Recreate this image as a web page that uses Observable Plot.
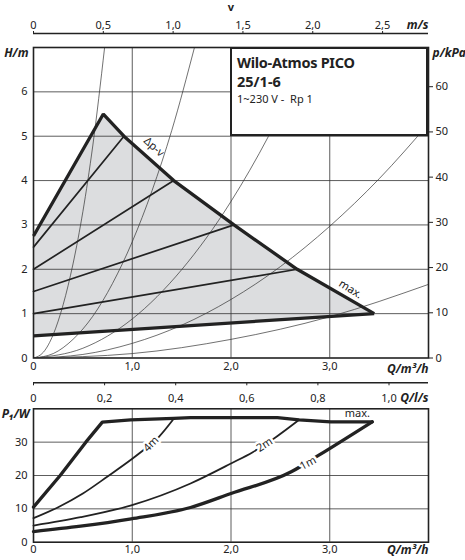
<!DOCTYPE html>
<html>
<head>
<meta charset="utf-8">
<script src="https://cdn.jsdelivr.net/npm/d3@7"></script>
<script src="https://cdn.jsdelivr.net/npm/@observablehq/plot@0.6"></script>
<style>
  html, body { margin: 0; padding: 0; background: #fff; }
  body { font-family: "Noto Sans", "Open Sans", sans-serif; color: #222; }
  #wrap { position: relative; width: 465px; height: 560px; overflow: hidden; }
  #wrap svg { display: block; }
  #legend {
    position: absolute; left: 230px; top: 47px; width: 198px; height: 89px;
    box-sizing: border-box; border: 2px solid #222; background: #fff;
    padding: 4px 0 0 5px; line-height: 1;
  }
  #legend .t1 { font-weight: bold; font-size: 14.5px; letter-spacing: -0.3px; margin-top: 2px; }
  #legend .t2 { font-weight: bold; font-size: 14.5px; margin-top: 4px; }
  #legend .t3 { font-size: 11px; margin-top: 5px; }
</style>
</head>
<body>
<div id="wrap">
  <div id="top"></div>
  <div id="bottom"></div>
  <div id="legend">
    <div class="t1">Wilo-Atmos PICO</div>
    <div class="t2">25/1-6</div>
    <div class="t3">1~230 V -&nbsp; Rp 1</div>
  </div>
</div>
<script>
// ---------- tick values ----------
const qTicks = [0, 1, 2, 3];            // Q in m³/h
const hTicks = [0, 1, 2, 3, 4, 5, 6];   // H in m
const kPaTicks = [0, 10, 20, 30, 40, 50, 60];
const vTicks = [0, 0.5, 1, 1.5, 2, 2.5];   // m/s
const lsTicks = [0, 0.2, 0.4, 0.6, 0.8, 1.0]; // l/s
const pTicks = [0, 10, 20, 30];          // P1 in W
const qGrid = [1, 2, 3];
const hGrid = [1, 2, 3, 4, 5, 6];
const pGrid = [10, 20, 30];

// unit conversions used by the secondary axes
const Q_PER_MS = 1.414;   // m³/h per m/s (pipe velocity axis)
const Q_PER_LS = 3.6;     // m³/h per l/s
const KPA_PER_M = 9.81;   // kPa per m head

// ---------- top panel: H(Q) ----------
// envelope (max. curve): rising edge then Δp-v max line
const maxEnvelope = [[0, 2.75], [0.707, 5.5], [0.916, 5.0], [1.42, 4.0], [2.03, 3.0], [2.67, 2.0], [3.45, 1.0]];
// minimum Δp-v line
const minLine = [[0, 0.5], [3.45, 1.0]];
// intermediate Δp-v lines
const dpvLine1 = [[0, 2.5], [0.916, 5.0]];
const dpvLine2 = [[0, 2.0], [1.42, 4.0]];
const dpvLine3 = [[0, 1.5], [2.03, 3.0]];
const dpvLine4 = [[0, 1.0], [2.67, 2.0]];
// system (pipe) curves
const sysA = [[0, 0], [0.1, 0.13], [0.2, 0.53], [0.3, 1.2], [0.4, 2.12], [0.5, 3.3], [0.6, 4.78], [0.72, 7.0]];
const sysB = [[0, 0], [0.2, 0.1], [0.4, 0.42], [0.6, 0.94], [0.8, 1.68], [1.0, 2.62], [1.2, 3.77], [1.4, 5.13], [1.63, 7.0]];
const sysC = [[0, 0], [0.5, 0.22], [1.0, 0.88], [1.5, 1.99], [2.0, 3.53], [2.38, 5.0], [2.6, 5.97], [2.82, 7.0]];
const sysD = [[0, 0], [0.5, 0.08], [1.0, 0.33], [1.5, 0.74], [2.0, 1.32], [2.5, 2.06], [3.0, 2.97], [3.5, 4.04], [4.0, 5.28]];
const sysE = [[0, 0], [1.0, 0.1], [2.0, 0.42], [3.0, 0.93], [4.0, 1.66]];

// ---------- bottom panel: P1(Q) ----------
const pMax = [[0, 10.5], [0.27, 20], [0.53, 30], [0.697, 36], [0.984, 36.65], [1.42, 37.15], [1.59, 37.35], [2.47, 37.35], [2.69, 36.7], [3.01, 36.1], [3.43, 36.1]];
const p4m = [[0, 7.2], [0.25, 10.5], [0.5, 14.6], [0.75, 19.7], [1.0, 25.0], [1.13, 28.0], [1.27, 31.6], [1.42, 37.0]];
const p2m = [[0, 5.0], [0.477, 7.5], [0.99, 11.05], [1.59, 17.6], [2.0, 23.6], [2.22, 27.0], [2.45, 31.4], [2.69, 36.7]];
const p1m = [[0, 3.2], [0.477, 4.8], [0.99, 7.0], [1.59, 10.4], [2.0, 14.6], [2.61, 21.1], [2.89, 26.1], [3.43, 36.1]];

// curve labels
const topLabels = [
  {q: 1.22, h: 4.76, text: "Δp-v", rotate: 42},
  {q: 3.21, h: 1.55, text: "max.", rotate: 32}
];
const bottomLabels = [
  {q: 1.19, p: 29.4, text: "4m", rotate: -45},
  {q: 2.34, p: 29.2, text: "2m", rotate: -33},
  {q: 2.78, p: 23.7, text: "1m", rotate: -28}
];
const maxLabelP = [{q: 3.28, p: 38.5, text: "max."}];

// ---------- helpers ----------
const FONT = "Noto Sans";
const INK = "#222";
const comma1 = d => d === 0 ? "0" : d.toFixed(1).replace(".", ",");
const pts = (arr, name) => arr.map(([q, y]) => ({q, y, name}));
const title = {fontWeight: "bold", fontStyle: "italic", fontSize: 12, lineAnchor: "middle", fill: INK};

// ---------- top chart ----------
const shadePoly = pts(maxEnvelope.concat(minLine.slice().reverse()), "shade");
const sysCurves = [
  ...pts(sysA, "A"), ...pts(sysB, "B"), ...pts(sysC, "C"), ...pts(sysD, "D"), ...pts(sysE, "E")
];
const dpvLines = [
  ...pts(dpvLine1, "1"), ...pts(dpvLine2, "2"), ...pts(dpvLine3, "3"), ...pts(dpvLine4, "4")
];

const topChart = Plot.plot({
  width: 465,
  height: 375,
  marginLeft: 33,
  marginRight: 37,
  marginTop: 47,
  marginBottom: 17.5,
  style: {fontFamily: FONT, fontSize: "11px", color: INK, background: "white", overflow: "visible"},
  x: {domain: [0, 4]},
  y: {domain: [0, 7]},
  marks: [
    Plot.line(shadePoly, {x: "q", y: "y", fill: "#dcdddf", stroke: "none", curve: "linear"}),
    Plot.ruleX(qGrid, {stroke: "#333", strokeWidth: 0.8}),
    Plot.ruleY(hGrid, {stroke: "#333", strokeWidth: 0.8}),
    Plot.line(sysCurves, {x: "q", y: "y", z: "name", stroke: "#333", strokeWidth: 0.7, curve: "monotone-x", clip: true}),
    Plot.line(dpvLines, {x: "q", y: "y", z: "name", stroke: INK, strokeWidth: 1.7}),
    Plot.line(pts(minLine, "min"), {x: "q", y: "y", stroke: INK, strokeWidth: 3.3, strokeLinecap: "butt"}),
    Plot.line(pts(maxEnvelope, "max"), {x: "q", y: "y", stroke: INK, strokeWidth: 3.3, strokeLinejoin: "miter", strokeLinecap: "butt"}),
    Plot.text(topLabels, {x: "q", y: "h", text: "text", rotate: "rotate", fontSize: 11, fill: INK}),
    Plot.frame({stroke: INK, strokeWidth: 1.6}),
    // bottom Q axis
    Plot.axisX({anchor: "bottom", ticks: qTicks, tickSize: 0, tickPadding: 4, tickFormat: comma1, label: null, fontSize: 11}),
    // left H axis
    Plot.axisY({anchor: "left", ticks: hTicks, tickSize: 0, tickPadding: 6, tickFormat: d => String(d), label: null, fontSize: 11}),
    // right kPa axis
    Plot.axisY({anchor: "right", ticks: kPaTicks.map(p => p / KPA_PER_M), tickSize: 4, tickPadding: 3, tickFormat: h => String(Math.round(h * KPA_PER_M)), label: null, fontSize: 11, strokeWidth: 1}),
    // top v axis (m/s), shifted above the frame
    Plot.ruleY([7], {dy: -14, stroke: INK, strokeWidth: 1.5}),
    Plot.axisX({anchor: "top", ticks: vTicks.map(v => v * Q_PER_MS), tickSize: 3, tickPadding: 2, tickFormat: q => comma1(Math.round(q / Q_PER_MS * 10) / 10), label: null, dy: -14, fontSize: 11}),
    // axis titles
    Plot.text(["v"], {frameAnchor: "top", dy: -40, fontWeight: "bold", fontSize: 11, lineAnchor: "middle", fill: INK}),
    Plot.text(["m/s"], {...title, frameAnchor: "top-right", textAnchor: "end", dy: -22}),
    Plot.text(["H/m"], {...title, frameAnchor: "top-left", textAnchor: "end", dx: -5, dy: 6}),
    Plot.text(["p/kPa"], {...title, frameAnchor: "top-right", textAnchor: "start", dx: 4, dy: 6}),
    Plot.text(["Q/m³/h"], {...title, frameAnchor: "bottom-right", textAnchor: "end", dy: 11})
  ]
});
document.getElementById("top").appendChild(topChart);

// ---------- bottom chart ----------
const botH = 185;
const botMarginTop = 33.3, botMarginBottom = 18.3;
const plotHeight = botH - botMarginTop - botMarginBottom;
const lsShift = -(plotHeight + 26);   // l/s axis line sits 26px above the frame

const bottomChart = Plot.plot({
  width: 465,
  height: botH,
  marginLeft: 33,
  marginRight: 37,
  marginTop: botMarginTop,
  marginBottom: botMarginBottom,
  style: {fontFamily: FONT, fontSize: "11px", color: INK, background: "white", overflow: "visible"},
  x: {domain: [0, 4]},
  y: {domain: [0, 40]},
  marks: [
    Plot.ruleX(qGrid, {stroke: "#333", strokeWidth: 0.8}),
    Plot.ruleY(pGrid, {stroke: "#333", strokeWidth: 0.8}),
    Plot.line(pts(p4m, "4m"), {x: "q", y: "y", stroke: INK, strokeWidth: 1.8, curve: "monotone-x"}),
    Plot.line(pts(p2m, "2m"), {x: "q", y: "y", stroke: INK, strokeWidth: 1.8, curve: "monotone-x"}),
    Plot.line(pts(p1m, "1m"), {x: "q", y: "y", stroke: INK, strokeWidth: 3.3, curve: "monotone-x"}),
    Plot.line(pts(pMax, "max"), {x: "q", y: "y", stroke: INK, strokeWidth: 3.3, curve: "linear", strokeLinejoin: "round"}),
    Plot.text(bottomLabels, {x: "q", y: "p", text: "text", rotate: "rotate", fontSize: 11, fill: INK, stroke: "white", strokeWidth: 5}),
    Plot.text(maxLabelP, {x: "q", y: "p", text: "text", fontSize: 11, fill: INK}),
    Plot.frame({stroke: INK, strokeWidth: 1.6}),
    Plot.axisX({anchor: "bottom", ticks: qTicks, tickSize: 0, tickPadding: 3, tickFormat: comma1, label: null, fontSize: 11}),
    Plot.axisY({anchor: "left", ticks: pTicks, tickSize: 0, tickPadding: 6, tickFormat: d => String(d), label: null, fontSize: 11}),
    // l/s axis above the frame: line, ticks down, labels below the line
    Plot.ruleY([0], {dy: lsShift, stroke: INK, strokeWidth: 1.5}),
    Plot.axisX({anchor: "bottom", ticks: lsTicks.map(l => l * Q_PER_LS), tickSize: 3, tickPadding: 8, tickFormat: q => comma1(Math.round(q / Q_PER_LS * 10) / 10), label: null, dy: lsShift, fontSize: 11}),
    Plot.text(["Q/l/s"], {...title, frameAnchor: "top-right", textAnchor: "end", dy: -10.6}),
    Plot.text(["P₁/W"], {...title, frameAnchor: "top-left", textAnchor: "end", dx: -4, dy: 5}),
    Plot.text(["Q/m³/h"], {...title, frameAnchor: "bottom-right", textAnchor: "end", dy: 8})
  ]
});
document.getElementById("bottom").appendChild(bottomChart);
</script>
</body>
</html>
